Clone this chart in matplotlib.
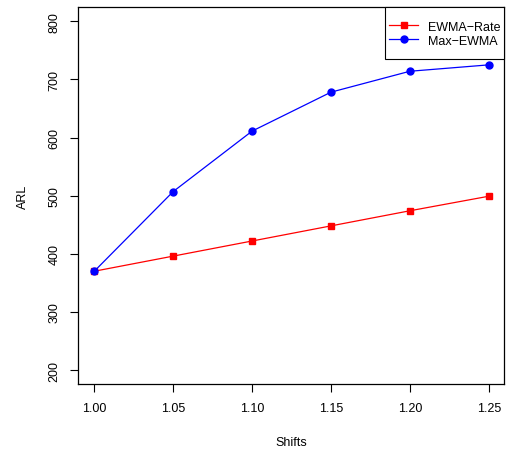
import matplotlib
matplotlib.use("Agg")
import matplotlib.pyplot as plt
from matplotlib.patches import Rectangle

shifts = [1.00, 1.05, 1.10, 1.15, 1.20, 1.25]
ewma_rate = [370, 396, 422, 448, 474, 499]
max_ewma = [370, 507, 611, 678, 714, 725]
xticks = [1.00, 1.05, 1.10, 1.15, 1.20, 1.25]
xticklabels = ["1.00", "1.05", "1.10", "1.15", "1.20", "1.25"]
yticks = [200, 300, 400, 500, 600, 700, 800]

plt.rcParams['font.family'] = ['Liberation Sans', 'DejaVu Sans']

W, H = 514, 452
fig = plt.figure(figsize=(W / 100, H / 100), dpi=100)
ax_pos = [0.1527, 0.1482, 0.8288, 0.8334]
ax = fig.add_axes(ax_pos)

ax.plot(shifts, ewma_rate, color='red', marker='s', markersize=5, linewidth=0.9, label='EWMA\u2212Rate')
ax.plot(shifts, max_ewma, color='blue', marker='o', markersize=5, linewidth=0.9, label='Max\u2212EWMA')

ax.set_xlim(1.0 - 0.01, 1.25 + 0.01)
ax.set_ylim(200 - 24, 800 + 24)
ax.set_xticks(xticks)
ax.set_xticklabels(xticklabels)
ax.set_yticks(yticks)
ax.set_yticklabels([str(v) for v in yticks], rotation=90, va='center')
ax.tick_params(direction='out', length=6, width=0.8, labelsize=9, pad=7)
for s in ax.spines.values():
    s.set_linewidth(0.9)

ax.set_xlabel('Shifts', fontsize=9, labelpad=16)
ax.set_ylabel('ARL', fontsize=9, labelpad=14)

vpad = 8  # extra vertical padding in pixels
right = ax_pos[0] + ax_pos[2]
top = ax_pos[1] + ax_pos[3]
leg = ax.legend(loc='upper right', fontsize=9, frameon=False,
                bbox_to_anchor=(right, top - vpad / H), bbox_transform=fig.transFigure,
                borderaxespad=0, handlelength=2.3, borderpad=0.32,
                handleheight=1.28, labelspacing=0.0, handletextpad=0.8)
fig.canvas.draw()
bb = leg.get_window_extent()
rect = Rectangle((bb.x0 / W, (bb.y0 - vpad) / H), bb.width / W, (bb.height + 2 * vpad) / H,
                 transform=fig.transFigure, facecolor='white', edgecolor='black',
                 linewidth=0.8, zorder=4)
ax.add_artist(rect)
rect.set_clip_on(False)
leg.set_zorder(5)

fig.savefig('out.png', dpi=100)
